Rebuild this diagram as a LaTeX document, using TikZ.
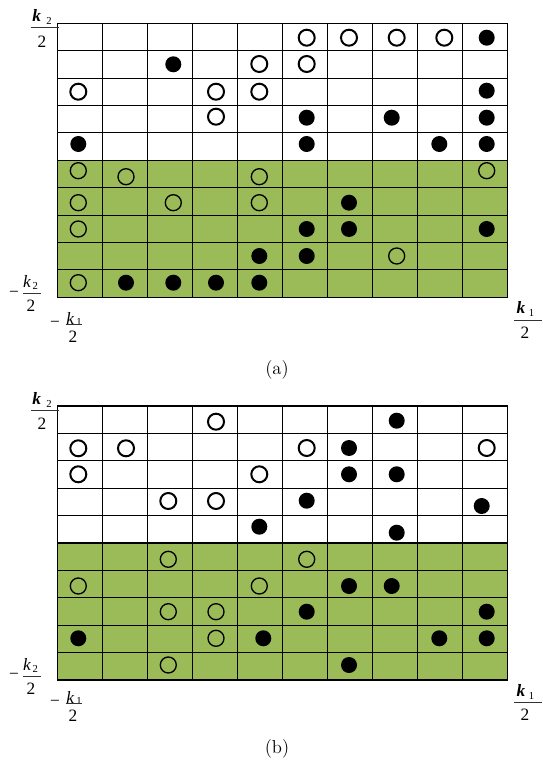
\documentclass[tikz,border=0pt]{standalone}
\usepackage{fontspec}
\newfontfamily\timesf{Liberation Serif}
\definecolor{cellgreen}{RGB}{155,187,89}
\begin{document}
\begin{tikzpicture}[x=0.75pt,y=-0.75pt]
\tikzset{
  gridline/.style={line width=0.8pt, black},
  fracbar/.style={line width=0.6pt, black!80},
  dot/.style={circle, fill=black, inner sep=0pt, minimum size=12pt},
  ring/.style={circle, draw=black, line width=1.5pt, inner sep=0pt, minimum size=12pt},
  gring/.style={ring, line width=1pt},
  lbl/.style={font=\timesf\fontsize{13}{15}\selectfont, inner sep=0pt},
  lblb/.style={font=\timesf\bfseries\itshape\fontsize{13}{15}\selectfont, inner sep=0pt},
  lbli/.style={font=\timesf\itshape\fontsize{13}{15}\selectfont, inner sep=0pt},
  sublbl/.style={font=\timesf\fontsize{8}{9}\selectfont, inner sep=0pt},
  caption/.style={font=\fontsize{14}{16}\selectfont, inner sep=0pt}
}
\useasboundingbox (0,0) rectangle (542,762);
\fill[white] (0,0) rectangle (542,762);

% ---------------- grid (a) ----------------
\fill[cellgreen] (57.3,160.3) rectangle (507.7,297.3);
\foreach \k in {0,...,10} {
  \draw[gridline] (57.3,23.3+27.4*\k) -- (507.7,23.3+27.4*\k);
  \draw[gridline] (57.3+45.04*\k,23.3) -- (57.3+45.04*\k,297.3);
}
\foreach \x/\y [count=\i] in {306.7/37.7,349/37.7,396.7/37.7,444.3/37.7,259.3/64,306.7/64,78.3/91.7,216/91.7,259.3/91.7,216/116.7}
  \node[ring] (a-r\i) at (\x,\y) {};
\foreach \x/\y [count=\i] in {486.7/37.7,173.3/64.3,486.7/90.7,306.7/117.7,391.7/117.7,486.7/117.7,78.3/144,306.7/144,439.3/144,486.7/144}
  \node[dot] (a-d\i) at (\x,\y) {};
\foreach \x/\y [count=\i] in {78.3/170.7,126/176.7,259.3/176.7,486.7/170.7,78.3/202.7,173.3/202.7,259.3/202.7,78.3/229,396.7/256,78.3/282.7}
  \node[gring] (a-g\i) at (\x,\y) {};
\foreach \x/\y [count=\i] in {349/202.7,306.7/229,349/229,486.7/229,259.3/256,306.7/256,126/282.7,173.3/282.7,216/282.7,259.3/282.7}
  \node[dot] (a-f\i) at (\x,\y) {};

% labels (a)
\node[lblb] (a-tk) at (36.7,15.5) {k};
\node[sublbl] (a-ts) at (49,21) {2};
\draw[fracbar] (30.7,27.3) -- (59.3,27.3);
\node[lbl] (a-td) at (42,42) {2};

\node[lbl] (a-lm) at (14,294) {−};
\node[lbli] (a-lk) at (27,281.7) {k};
\node[sublbl] (a-ls) at (35.2,286) {2};
\draw[fracbar] (23.3,293.3) -- (40.7,293.3);
\node[lbl] (a-ld) at (31,306) {2};

\node[lbl] (a-bm) at (55,324) {−};
\node[lbli] (a-bk) at (70.3,318) {k};
\node[sublbl] (a-bs) at (79,322) {1};
\draw[fracbar] (65.7,324.3) -- (81.7,324.3);
\node[lbl] (a-bd) at (73,337) {2};

\node[lblb] (a-rk) at (521,307.5) {k};
\node[sublbl] (a-rs) at (531.5,313) {1};
\draw[fracbar] (514,320) -- (541.7,320);
\node[lbl] (a-rd) at (525,332.5) {2};

\node[caption] (capa) at (277,370) {(a)};

% ---------------- grid (b) ----------------
\fill[cellgreen] (57.3,543) rectangle (507.7,680);
\foreach \k in {0,...,10} {
  \draw[gridline] (57.3,406+27.4*\k) -- (507.7,406+27.4*\k);
  \draw[gridline] (57.3+45.04*\k,406) -- (57.3+45.04*\k,680);
}
\foreach \x/\y [count=\i] in {216/421.7,78.3/448.3,126/448.3,306.7/448,486.7/448,78.3/474.3,259.3/474.3,168.3/501,216/501}
  \node[ring] (b-r\i) at (\x,\y) {};
\foreach \x/\y [count=\i] in {396.7/420.7,349/448,349/474.3,396.7/474.3,306.7/500.7,481.7/506,259.3/526.7,396.7/532.7}
  \node[dot] (b-d\i) at (\x,\y) {};
\foreach \x/\y [count=\i] in {168.3/559.3,306.7/559.3,78.3/586,259.3/586,168.3/611.7,216/611.7,216/638.3,168.3/665}
  \node[gring] (b-g\i) at (\x,\y) {};
\foreach \x/\y [count=\i] in {349/586,391.7/586,306.7/611.7,486.7/611.7,78.3/638.3,263.3/638.3,439.3/638.3,486.7/638.3,349/665}
  \node[dot] (b-f\i) at (\x,\y) {};

% labels (b)
\node[lblb] (b-tk) at (36.7,398.2) {k};
\node[sublbl] (b-ts) at (49,403.7) {2};
\draw[fracbar] (30.7,410) -- (59.3,410);
\node[lbl] (b-td) at (42,424.2) {2};

\node[lbl] (b-lm) at (14,676.7) {−};
\node[lbli] (b-lk) at (27,664.4) {k};
\node[sublbl] (b-ls) at (35.2,668.7) {2};
\draw[fracbar] (23.3,676) -- (40.7,676);
\node[lbl] (b-ld) at (31,689) {2};

\node[lbl] (b-bm) at (55,703) {−};
\node[lbli] (b-bk) at (70.3,697) {k};
\node[sublbl] (b-bs) at (79,701) {1};
\draw[fracbar] (65.7,703.3) -- (81.7,703.3);
\node[lbl] (b-bd) at (73,716) {2};

\node[lblb] (b-rk) at (521,690.2) {k};
\node[sublbl] (b-rs) at (531.5,695.7) {1};
\draw[fracbar] (514,702.7) -- (541.7,702.7);
\node[lbl] (b-rd) at (525,715.2) {2};

\node[caption] (capb) at (277,748.5) {(b)};
\end{tikzpicture}
\end{document}
